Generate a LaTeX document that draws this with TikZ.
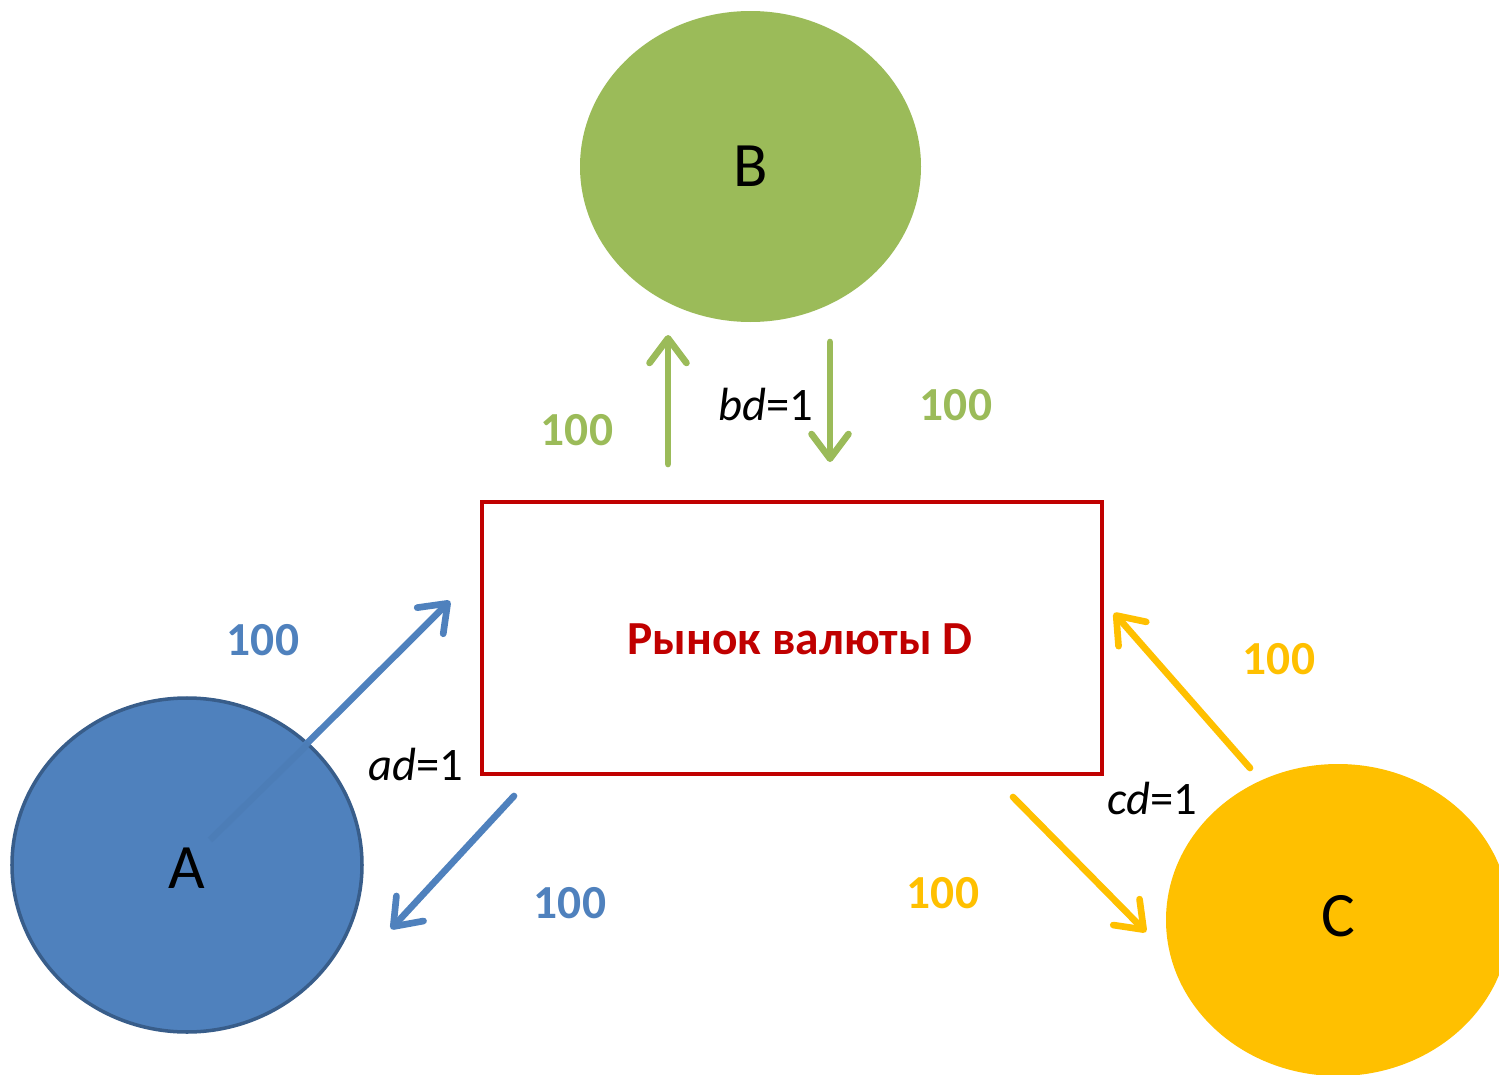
\documentclass[tikz,border=0pt]{standalone}
\usepackage{fontspec}
\setmainfont{Carlito}
\usetikzlibrary{shapes.geometric,arrows.meta}
\definecolor{cblue}{HTML}{4F81BD}
\definecolor{cblueline}{HTML}{385D8A}
\definecolor{cgreen}{HTML}{9BBB59}
\definecolor{cyellow}{HTML}{FFC000}
\definecolor{cred}{HTML}{C00000}
\tikzset{
  party/.style={ellipse, inner sep=0pt, font=\fontsize{36}{42}\selectfont, text=black},
  flow/.style={line width=3.8pt, line cap=round, -{Straight Barb[length=14pt,width=21pt,line cap=round,line join=round]}},
  amount/.style={font=\fontsize{27}{32}\selectfont\bfseries},
  rate/.style={font=\fontsize{26.5}{30}\selectfont, text=black},
}
\begin{document}
\begin{tikzpicture}[x=0.02cm,y=-0.02cm]
\useasboundingbox (0,0) rectangle (1499,1075);
\clip (0,0) rectangle (1499,1075);
% parties
\node[party, fill=cgreen, minimum width=341*0.02cm, minimum height=311*0.02cm] (B) at (750.5,166.5) {B};
\node[party, fill=cyellow, minimum width=344*0.02cm, minimum height=312*0.02cm] (C) at (1338,920) {};
% market
\node[draw=cred, line width=2.3pt, minimum width=620*0.02cm, minimum height=272*0.02cm,
      text=cred, font=\fontsize{27}{32}\selectfont\bfseries] (D) at (792,638) {};
\node[text=cred, font=\fontsize{27}{32}\selectfont\bfseries] (Dlabel) at (800,639) {Рынок валюты D};
% arrow endpoints
\coordinate (a1) at (210,840);  \coordinate (a2) at (450,601);
\coordinate (a3) at (514,796);  \coordinate (a4) at (391,929);
\coordinate (b1) at (668,464);  \coordinate (b2) at (668,335);
\coordinate (b3) at (830,342);  \coordinate (b4) at (830,462);
\coordinate (c1) at (1250,768); \coordinate (c2) at (1114,613);
\coordinate (c3) at (1013,797); \coordinate (c4) at (1146,932);
% A (drawn before its outgoing arrow so the arrow shows over it)
\node[party, fill=cblue, draw=cblueline, line width=2pt, minimum width=350*0.02cm, minimum height=334*0.02cm] (A) at (187,865) {};
\draw[flow, cblue] (a1) -- (a2);
\draw[line width=3.8pt, cblue!92!black, opacity=0.35] (a1) -- (A.45);
\node[font=\fontsize{36}{42}\selectfont] (Alabel) at (187,868) {A};
\draw[flow, cblue] (a3) -- (a4);
\draw[flow, cgreen] (b1) -- (b2);
\draw[flow, cgreen] (b3) -- (b4);
\draw[flow, cyellow] (c1) -- (c2);
\draw[flow, cyellow] (c3) -- (c4);
\node[font=\fontsize{36}{42}\selectfont] (Clabel) at (1338,916) {C};
% amounts
\node[amount, text=cblue] (qa1) at (263,640) {100};
\node[amount, text=cblue] (qa2) at (570,903) {100};
\node[amount, text=cgreen] (qb1) at (577,430) {100};
\node[amount, text=cgreen] (qb2) at (956,405) {100};
\node[amount, text=cyellow] (qc1) at (1279,659) {100};
\node[amount, text=cyellow] (qc2) at (943,893) {100};
% rates
\node[rate] (ra) at (416,764) {\textit{ad}=1};
\node[rate] (rb) at (766,404) {\textit{bd}=1};
\node[rate] (rc) at (1152,798) {\textit{cd}=1};
\end{tikzpicture}
\end{document}
